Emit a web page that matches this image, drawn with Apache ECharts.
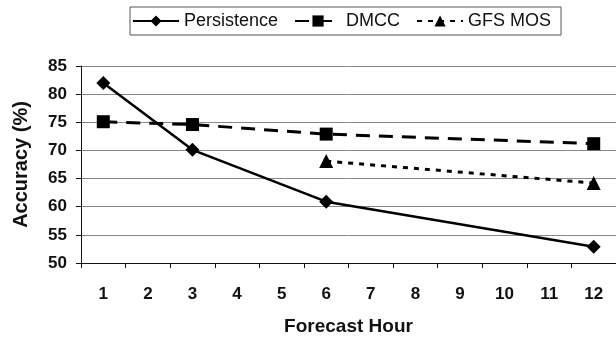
<!DOCTYPE html>
<html><head><meta charset="utf-8">
<script src="https://cdn.jsdelivr.net/npm/echarts@6/dist/echarts.min.js"></script>
<style>html,body{margin:0;padding:0;background:#fff}#c{width:616px;height:341px}</style>
</head><body><div id="c"></div>
<script>
const hours = ['1','2','3','4','5','6','7','8','9','10','11','12'];
const persistence = [82, null, 70.1, null, null, 60.9, null, null, null, null, null, 52.9];
const dmcc = [75.1, null, 74.6, null, null, 72.9, null, null, null, null, null, 71.2];
const gfsMos = [null, null, null, null, null, 68.1, null, null, null, null, null, 64.2];
const yTicks = [50, 55, 60, 65, 70, 75, 80, 85];

const font = 'Liberation Sans, Arial, sans-serif';
const chart = echarts.init(document.getElementById('c'));
chart.setOption({
  animation: false,
  backgroundColor: '#fff',
  legend: {
    left: 130, top: 7,
    padding: [5, 10, 5, 2],
    borderColor: '#555', borderWidth: 1,
    itemWidth: 46, itemHeight: 14, itemGap: 16,
    textStyle: { fontFamily: font, fontSize: 18, color: '#111' },
    data: ['Persistence', 'DMCC', 'GFS MOS']
  },
  grid: { left: 81, top: 66, width: 537, height: 204, containLabel: false },
  xAxis: {
    type: 'category', data: hours, boundaryGap: true,
    name: 'Forecast Hour', nameLocation: 'middle', nameGap: 54,
    nameTextStyle: { fontFamily: font, fontSize: 19, fontWeight: 'bold', color: '#111' },
    axisLine: { lineStyle: { color: '#111', width: 1 } },
    axisTick: { show: true, length: 5, lineStyle: { color: '#111' } },
    axisLabel: { margin: 23, fontFamily: font, fontSize: 17, fontWeight: 'bold', color: '#111' },
    splitLine: { show: false }
  },
  yAxis: {
    type: 'value', min: yTicks[0], max: yTicks[yTicks.length - 1], interval: 5,
    name: 'Accuracy (%)', nameLocation: 'middle', nameGap: 50,
    nameTextStyle: { fontFamily: font, fontSize: 20, fontWeight: 'bold', color: '#111' },
    axisLine: { show: true, lineStyle: { color: '#111', width: 1 } },
    axisTick: { show: true, length: 5, lineStyle: { color: '#111' } },
    axisLabel: { margin: 14, fontFamily: font, fontSize: 17, fontWeight: 'bold', color: '#111' },
    splitLine: { show: true, lineStyle: { color: '#888', width: 1 } }
  },
  series: [
    {
      name: 'Persistence', type: 'line', data: persistence, connectNulls: true,
      symbol: 'diamond', symbolSize: 14, showAllSymbol: true,
      itemStyle: { color: '#000' },
      lineStyle: { color: '#000', width: 2.5, type: 'solid' }
    },
    {
      name: 'DMCC', type: 'line', data: dmcc, connectNulls: true,
      symbol: 'rect', symbolSize: 13,
      itemStyle: { color: '#000' },
      lineStyle: { color: '#000', width: 3, type: [14, 9] }
    },
    {
      name: 'GFS MOS', type: 'line', data: gfsMos, connectNulls: true,
      symbol: 'triangle', symbolSize: 14,
      itemStyle: { color: '#000' },
      lineStyle: { color: '#000', width: 3, type: [5, 6] }
    }
  ]
});
</script></body></html>
